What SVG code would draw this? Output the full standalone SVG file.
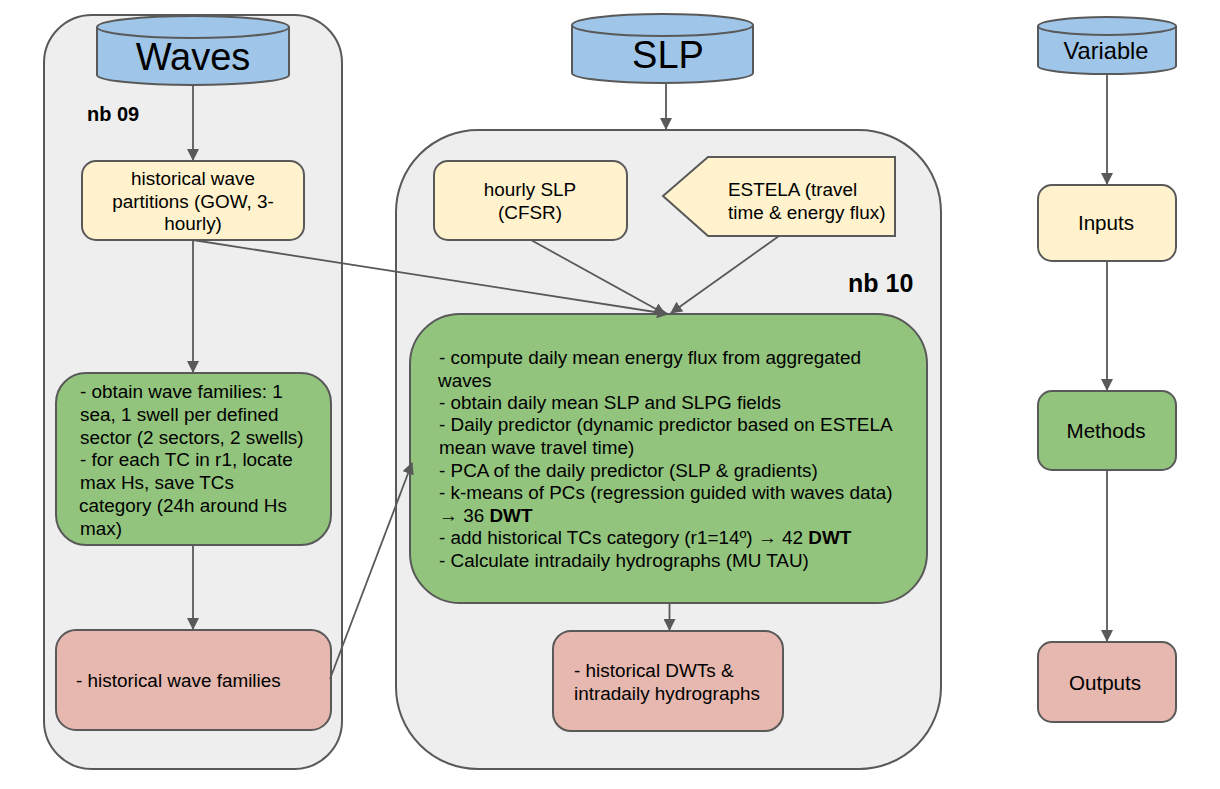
<svg xmlns="http://www.w3.org/2000/svg" width="1220" height="789" viewBox="0 0 1220 789">
<style>
text{font-family:"Liberation Sans",Arial,sans-serif;fill:#000;font-size:18.9px}
.m{text-anchor:middle}
.b{font-weight:bold}
.leg{font-size:20.6px}
.grp{fill:#eeeeee;stroke:#595959;stroke-width:2}
.y{fill:#fff2cc;stroke:#595959;stroke-width:2}
.g{fill:#93c47d;stroke:#595959;stroke-width:2}
.r{fill:#e6b8af;stroke:#595959;stroke-width:2}
.c{fill:#9fc5e8;stroke:#595959;stroke-width:2}
.l{fill:none;stroke:#595959;stroke-width:2}
#connectors path{fill:none;stroke:#595959;stroke-width:1.8;marker-end:url(#a)}
</style>
<defs>
<marker id="a" viewBox="0 0 12 12" refX="11" refY="6" markerWidth="12" markerHeight="12" markerUnits="userSpaceOnUse" orient="auto"><path d="M0 0L12 6L0 12Z" fill="#595959"/></marker>
</defs>
<g id="group-waves"><rect class="grp" x="44" y="15" width="298" height="754" rx="48"/></g>
<g id="group-slp"><rect class="grp" x="396" y="130" width="545" height="639" rx="82"/></g>
<g id="waves"><path class="c" d="M97 27V75A96 10 0 0 0 289 75V27A96 11 0 0 0 97 27Z"/><path class="l" d="M97 27A96 11 0 0 0 289 27"/><text class="m" x="193" y="70" style="font-size:38px">Waves</text></g>
<g id="slp"><path class="c" d="M572 25V73A90.500 10 0 0 0 753 73V25A90.500 11 0 0 0 572 25Z"/><path class="l" d="M572 25A90.500 11 0 0 0 753 25"/><text class="m" x="668" y="68" style="font-size:38px">SLP</text></g>
<g id="variable"><path class="c" d="M1038 26V66A69 8 0 0 0 1176 66V26A69 9 0 0 0 1038 26Z"/><path class="l" d="M1038 26A69 9 0 0 0 1176 26"/><text class="m" x="1106" y="59" style="font-size:23.600px">Variable</text></g>
<g id="label-nb09"><text class="b" x="87" y="121" style="font-size:20px">nb 09</text></g>
<g id="label-nb10"><text class="b" x="848" y="292" style="font-size:25px">nb 10</text></g>
<g id="n-partitions"><rect class="y" x="82" y="161" width="222" height="79" rx="14"/><text class="m" x="193" y="185">historical wave</text><text class="m" x="193" y="208">partitions (GOW, 3-</text><text class="m" x="193" y="230">hourly)</text></g>
<g id="n-hourly"><rect class="y" x="434" y="161" width="193" height="79" rx="14"/><text class="m" x="530" y="196">hourly SLP</text><text class="m" x="530" y="219">(CFSR)</text></g>
<g id="n-estela"><path class="y" d="M663 196L708 157H895V236H708Z"/><text x="728" y="196">ESTELA (travel</text><text x="728" y="219">time &amp; energy flux)</text></g>
<g id="n-families"><rect class="g" x="56" y="373" width="275" height="172" rx="30"/><text x="80" y="398">- obtain wave families: 1</text><text x="80" y="421">sea, 1 swell per defined</text><text x="80" y="444">sector (2 sectors, 2 swells)</text><text x="80" y="466">- for each TC in r1, locate</text><text x="80" y="489">max Hs, save TCs</text><text x="79" y="512">category (24h around Hs</text><text x="80" y="535">max)</text></g>
<g id="n-methods"><rect class="g" x="410" y="314" width="517" height="289" rx="50"/><text x="439" y="364">- compute daily mean energy flux from aggregated</text><text x="438" y="387">waves</text><text x="439" y="409">- obtain daily mean SLP and SLPG fields</text><text x="439" y="431">- Daily predictor (dynamic predictor based on ESTELA</text><text x="439" y="454">mean wave travel time)</text><text x="439" y="477">- PCA of the daily predictor (SLP &amp; gradients)</text><text x="439" y="499">- k-means of PCs (regression guided with waves data)</text><text x="439" y="522">→ 36 <tspan class="b">DWT</tspan></text><text x="439" y="544">- add historical TCs category (r1=14º) → 42 <tspan class="b">DWT</tspan></text><text x="439" y="567">- Calculate intradaily hydrographs (MU TAU)</text></g>
<g id="n-wave-out"><rect class="r" x="56" y="630" width="275" height="100" rx="20"/><text x="76" y="687">- historical wave families</text></g>
<g id="n-dwt-out"><rect class="r" x="553" y="631" width="230" height="100" rx="18"/><text x="574" y="677">- historical DWTs &amp;</text><text x="574" y="700">intradaily hydrographs</text></g>
<g id="n-inputs"><rect class="y" x="1038" y="185" width="138" height="76" rx="14"/><text class="m leg" x="1106" y="230">Inputs</text></g>
<g id="n-legend-methods"><rect class="g" x="1038" y="391" width="138" height="79" rx="14"/><text class="m leg" x="1106" y="438">Methods</text></g>
<g id="n-outputs"><rect class="r" x="1038" y="642" width="138" height="80" rx="14"/><text class="m leg" x="1105" y="690">Outputs</text></g>
<g id="connectors">
<path d="M193 85V160"/><path d="M193 240V372"/><path d="M193 545V629"/>
<path d="M193 240L668 314"/><path d="M330 679L412 463"/>
<path d="M666 84V129"/><path d="M531 240L665 314"/><path d="M779 236L671 313"/><path d="M669.500 603V630"/>
<path d="M1107 75V184"/><path d="M1107 261V390"/><path d="M1107 470V641"/>
</g>
</svg>
